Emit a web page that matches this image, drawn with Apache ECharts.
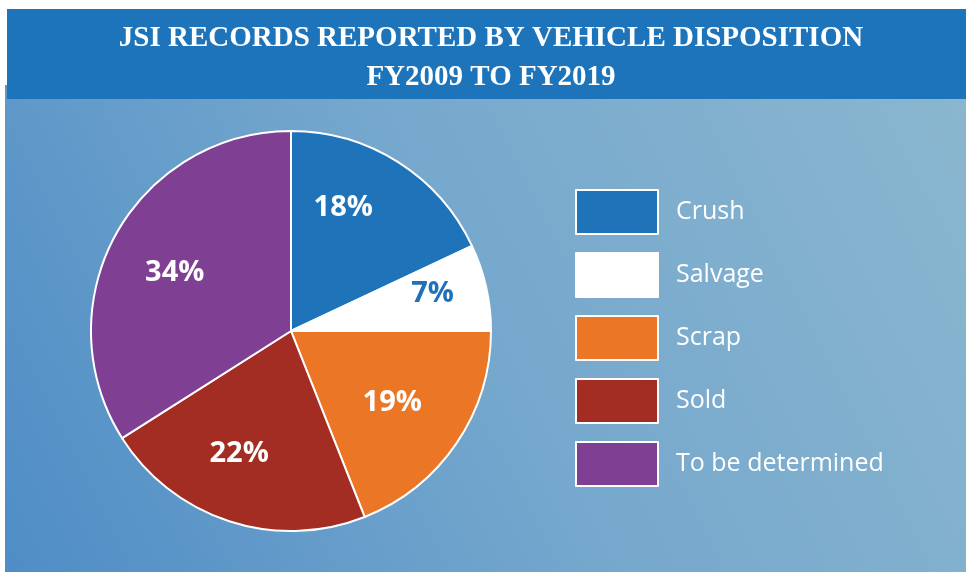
<!DOCTYPE html>
<html>
<head>
<meta charset="utf-8">
<script src="https://cdn.jsdelivr.net/npm/echarts@6/dist/echarts.min.js"></script>
<style>
  html, body { margin: 0; padding: 0; background: #fff; }
  #main { width: 966px; height: 572px; }
</style>
</head>
<body>
<div id="main"></div>
<script>
// data
const categories = ['Crush', 'Salvage', 'Scrap', 'Sold', 'To be determined'];
const shares = [18, 7, 19, 22, 34];
const colors = ['#1f74b9', '#ffffff', '#eb7626', '#a32d22', '#7f4094'];
// label nudges from the default inside position
const labelOffsets = [[-3, -36], [41, -15], [16, 14], [-20, 25], [-26, -9]];
const labelColors = ['#fff', '#1f72b8', '#fff', '#fff', '#fff'];

const myChart = echarts.init(document.getElementById('main'));

const pieData = categories.map((name, i) => ({
  name: name,
  value: shares[i],
  itemStyle: { color: colors[i] },
  label: { offset: labelOffsets[i], color: labelColors[i] }
}));

const option = {
  animation: false,
  graphic: [
    {
      type: 'rect', z: -10,
      shape: { x: 5, y: 85, width: 961, height: 487 },
      style: {
        fill: new echarts.graphic.LinearGradient(0, 1, 1, 0, [
          { offset: 0, color: '#4f8dc6' },
          { offset: 0.5, color: '#76a8cd' },
          { offset: 1, color: '#8ab6cf' }
        ])
      }
    },
    {
      type: 'rect', z: -5,
      shape: { x: 7, y: 9, width: 959, height: 90 },
      style: { fill: '#1d74ba' }
    }
  ],
  title: {
    text: 'JSI RECORDS REPORTED BY VEHICLE DISPOSITION\nFY2009 TO FY2019',
    left: 491,
    top: 19,
    padding: 0,
    textAlign: 'center',
    textStyle: {
      color: '#fff',
      fontFamily: 'Liberation Serif',
      fontWeight: 'bold',
      fontSize: 29,
      lineHeight: 39
    }
  },
  legend: {
    orient: 'vertical',
    left: 575,
    top: 189,
    padding: 0,
    itemWidth: 82,
    itemHeight: 44,
    itemGap: 17,
    icon: 'rect',
    data: categories,
    itemStyle: { borderColor: '#fff', borderWidth: 2 },
    textStyle: {
      color: '#fff',
      fontFamily: 'Open Sans',
      fontSize: 25,
      lineHeight: 30,
      padding: [0, 0, 0, 13]
    }
  },
  series: [{
    type: 'pie',
    center: [291, 331],
    radius: 200,
    startAngle: 90,
    clockwise: true,
    data: pieData,
    itemStyle: { borderColor: '#fff', borderWidth: 2 },
    label: {
      show: true,
      position: 'inside',
      formatter: '{c}%',
      fontFamily: 'Open Sans',
      fontWeight: 'bold',
      fontSize: 29
    },
    labelLine: { show: false },
    emphasis: { disabled: true }
  }]
};

myChart.setOption(option);
window.onresize = function () {
  myChart.resize();
};
</script>
</body>
</html>
